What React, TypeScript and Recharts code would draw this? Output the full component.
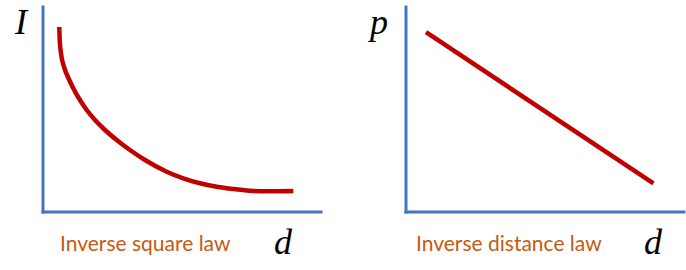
import { LineChart, Line, XAxis, YAxis, Label } from "recharts";

// inverse square law curve (0-100 scale)
const squareD = [
  5.86, 6.01, 6.47, 7.55, 9.46, 11.87, 13.31, 15.72, 18.71, 22.3, 26.51, 31.29,
  36.69, 44.5, 50.47, 56.47, 62.48, 68.45, 74.46, 80.47, 90.04,
];
const squareI = [
  90.24, 83.9, 77.41, 70.88, 64.39, 57.9, 54.63, 49.76, 44.88, 40.0, 35.12,
  30.24, 25.37, 19.66, 16.44, 14.0, 12.34, 11.22, 10.39, 10.1, 10.24,
];

// inverse distance law line
const distanceD = [7.2, 89.0];
const distanceP = [87.7, 14.0];

const titles = ["Inverse square law", "Inverse distance law"];
const yNames = ["I", "p"];
const xName = "d";

const AXIS = "#4472C4";
const LINE = "#C00000";
const ORANGE = "#C55A11";

const mathFont = {
  fontFamily: "'Liberation Serif', serif",
  fontStyle: "italic" as const,
  fontSize: 36,
  fill: "#000",
};

const captionFont = {
  fontFamily: "Lato, sans-serif",
  fontSize: 21,
  fill: ORANGE,
};

const squareData = squareD.map((d, i) => ({ d, v: squareI[i] }));
const distanceData = distanceD.map((d, i) => ({ d, v: distanceP[i] }));

function xLabel(title: string, titleDx: number, dDx: number) {
  return (props: any) => {
    const vb = props.viewBox || { x: 0, y: 0 };
    return (
      <g>
        <text x={vb.x + titleDx} y={vb.y + 39} {...captionFont}>
          {title}
        </text>
        <text x={vb.x + dDx} y={vb.y + 42} textAnchor="middle" {...mathFont}>
          {xName}
        </text>
      </g>
    );
  };
}

function yLabel(name: string, dx: number) {
  return (props: any) => {
    const vb = props.viewBox || { x: 0, y: 0 };
    return (
      <text x={vb.x + vb.width + dx} y={vb.y + 27} textAnchor="middle" {...mathFont}>
        {name}
      </text>
    );
  };
}

function Panel({
  data,
  left,
  right,
  title,
  yName,
  titleDx,
  dDx,
  yDx,
}: {
  data: { d: number; v: number }[];
  left: number;
  right: number;
  title: string;
  yName: string;
  titleDx: number;
  dDx: number;
  yDx: number;
}) {
  const axisLine = { stroke: AXIS, strokeWidth: 3, strokeLinecap: "square" as const };
  return (
    <LineChart
      width={343}
      height={270}
      data={data}
      margin={{ top: 7, right, bottom: 57, left: left - 1 }}
    >
      <XAxis
        dataKey="d"
        type="number"
        domain={[0, 100]}
        height={1}
        tick={false}
        tickLine={false}
        axisLine={axisLine}
      >
        <Label content={xLabel(title, titleDx, dDx)} />
      </XAxis>
      <YAxis
        type="number"
        domain={[0, 100]}
        width={1}
        tick={false}
        tickLine={false}
        axisLine={axisLine}
      >
        <Label content={yLabel(yName, yDx)} />
      </YAxis>
      <Line
        type="monotone"
        dataKey="v"
        stroke={LINE}
        strokeWidth={4.5}
        dot={false}
        activeDot={false}
        isAnimationActive={false}
      />
    </LineChart>
  );
}

export default function App() {
  return (
    <div
      style={{
        position: "absolute",
        left: 0,
        top: 0,
        width: 686,
        height: 270,
        background: "#fff",
        display: "flex",
      }}
    >
      <Panel
        data={squareData}
        left={43}
        right={22}
        title={titles[0]}
        yName={yNames[0]}
        titleDx={17}
        dDx={240}
        yDx={-22}
      />
      <Panel
        data={distanceData}
        left={63}
        right={2}
        title={titles[1]}
        yName={yNames[1]}
        titleDx={10}
        dDx={247}
        yDx={-27}
      />
    </div>
  );
}
